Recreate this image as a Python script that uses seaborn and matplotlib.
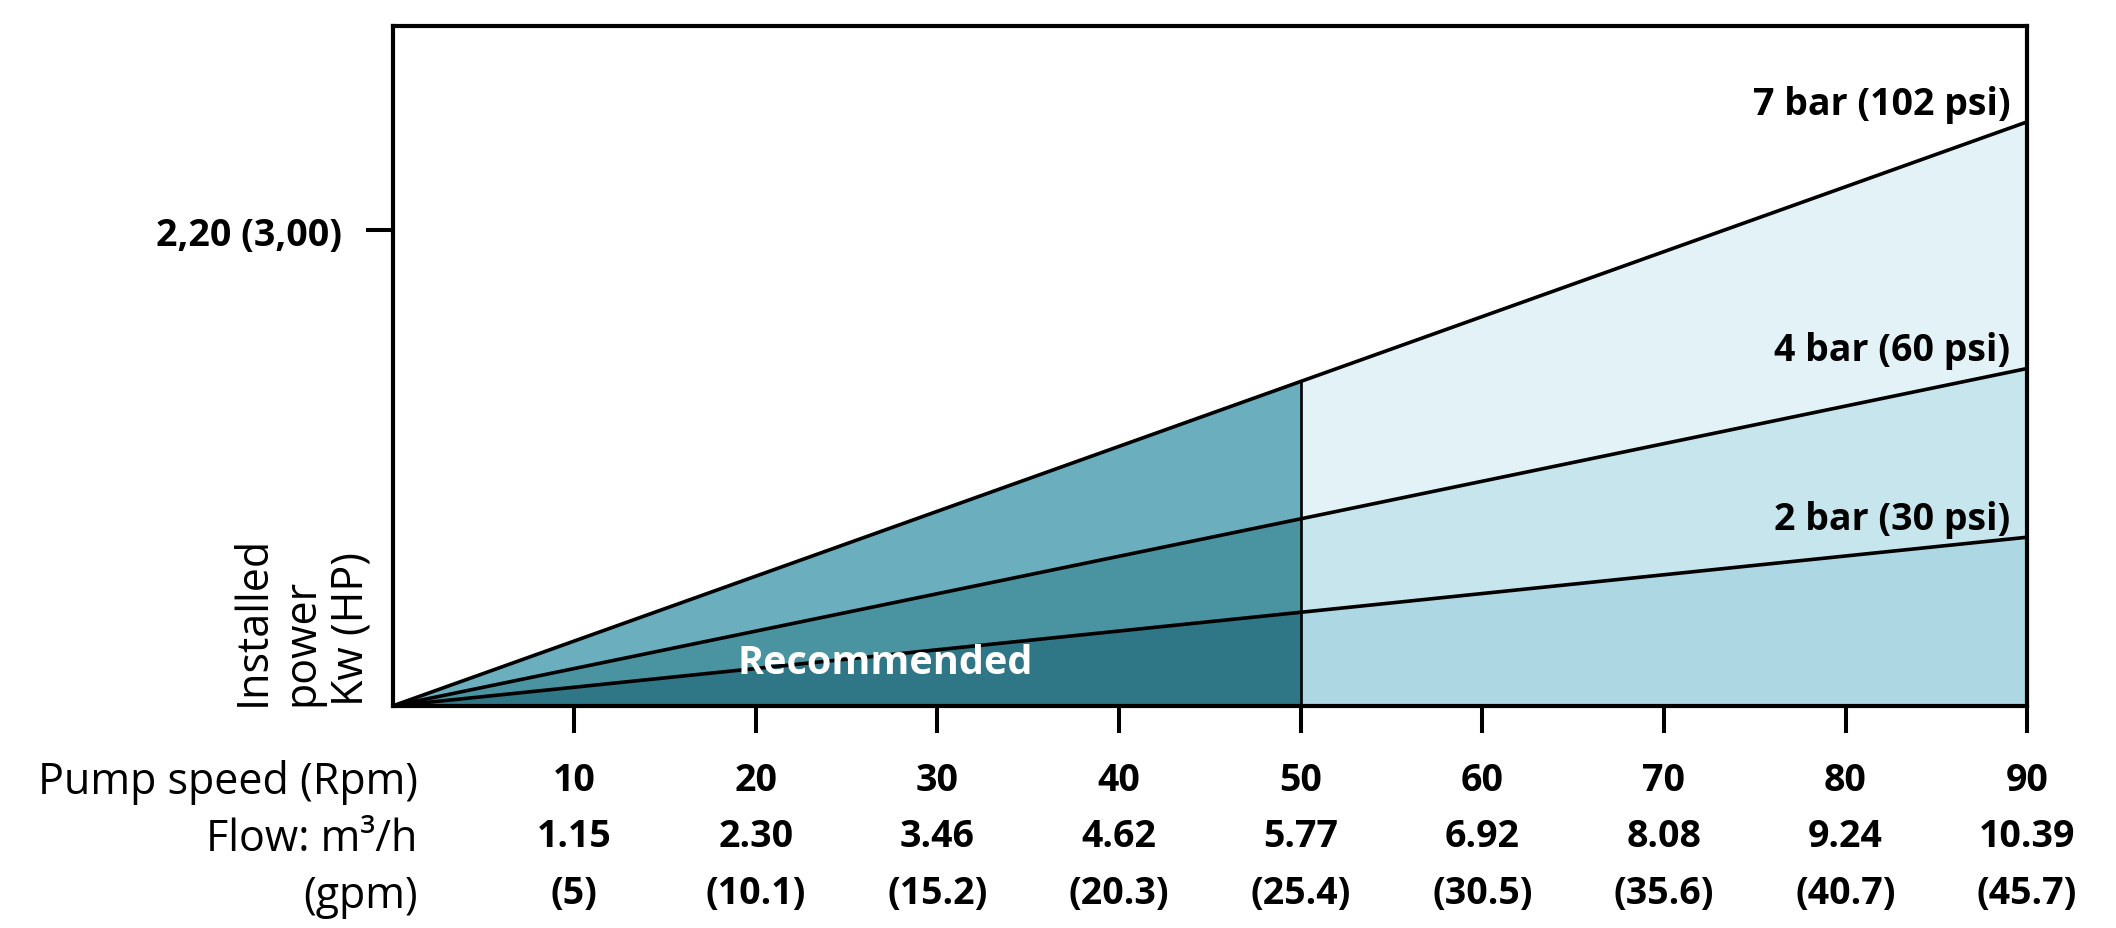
import numpy as np
import matplotlib
matplotlib.use("Agg")
import matplotlib.pyplot as plt
import seaborn as sns
import pandas as pd

# ---- data ----
speed = [0, 50, 90]                  # pump speed (Rpm) break points
kw_7bar = [0.0, 1.50, 2.70]          # installed power, 7 bar (102 psi)
kw_4bar = [0.0, 0.865, 1.56]         # installed power, 4 bar (60 psi)
kw_2bar = [0.0, 0.433, 0.78]         # installed power, 2 bar (30 psi)
series_names = ["7 bar (102 psi)", "4 bar (60 psi)", "2 bar (30 psi)"]
recommended_limit = 50

tick_rpm = [10, 20, 30, 40, 50, 60, 70, 80, 90]
tick_flow = ["1.15", "2.30", "3.46", "4.62", "5.77", "6.92", "8.08", "9.24", "10.39"]
tick_gpm = ["(5)", "(10.1)", "(15.2)", "(20.3)", "(25.4)", "(30.5)", "(35.6)", "(40.7)", "(45.7)"]
row_labels = ["Pump speed (Rpm)", "Flow: m³/h", "(gpm)"]
ytick_val = [2.20]
ytick_lab = ["2,20 (3,00)"]

# ---- style ----
sns.set_theme(style="white")
plt.rcParams["font.family"] = ["Open Sans", "DejaVu Sans"]

left_cols = ["#2F7686", "#4A93A1", "#6BAFBF"]   # below 2 bar, 2-4, 4-7
right_cols = ["#ACD7E3", "#C7E5EC", "#E3F2F7"]

FS = 27
FS_REG = 31
fig = plt.figure(figsize=(21.16, 9.29), dpi=100)
fig.patch.set_facecolor("white")
ax = fig.add_axes([0.1855, 0.2390, 0.958 - 0.1855, 0.9709 - 0.2390])
ax.set_facecolor("white")

x = np.array(speed, dtype=float)
y7 = np.array(kw_7bar)
y4 = np.array(kw_4bar)
y2 = np.array(kw_2bar)
zero = np.zeros_like(x)

segments = [(x <= recommended_limit, left_cols), (x >= recommended_limit, right_cols)]
for mask, cols in segments:
    ax.fill_between(x[mask], zero[mask], y2[mask], color=cols[0], lw=0, zorder=1)
    ax.fill_between(x[mask], y2[mask], y4[mask], color=cols[1], lw=0, zorder=1)
    ax.fill_between(x[mask], y4[mask], y7[mask], color=cols[2], lw=0, zorder=1)

df = pd.DataFrame({
    "speed": list(speed) * 3,
    "kw": kw_7bar + kw_4bar + kw_2bar,
    "series": sum([[n] * len(speed) for n in series_names], []),
})
sns.lineplot(data=df, x="speed", y="kw", hue="series",
             palette=["black"] * 3, lw=2.6, legend=False, ax=ax, zorder=3)

# vertical divider at the recommended limit
idx = speed.index(recommended_limit)
ax.vlines(recommended_limit, 0, kw_7bar[idx], color="black", lw=1.9, zorder=3)

# series labels at right end
for name, ys in zip(series_names, [kw_7bar, kw_4bar, kw_2bar]):
    ax.annotate(name, xy=(speed[-1], ys[-1]), xytext=(-12, 6),
                textcoords="offset points", ha="right", va="baseline",
                fontsize=FS, fontweight="bold", color="black", zorder=4)

ax.text(27.15, 0.203, "Recommended", ha="center", va="center",
        fontsize=28.5, fontweight="bold", color="white", zorder=4)

ax.set_xlim(0, 90)
ax.set_ylim(0, 3.143)

ax.set_xticks(tick_rpm)
ax.set_xticklabels([f"{r}\n{f}\n{g}" for r, f, g in zip(tick_rpm, tick_flow, tick_gpm)],
                   fontsize=FS, fontweight="bold", linespacing=1.64)
ax.set_yticks(ytick_val)
ax.set_yticklabels(ytick_lab, fontsize=FS, fontweight="bold")
ax.tick_params(axis="x", direction="out", length=19.5, width=2.9, pad=20,
               bottom=True, colors="black")
ax.tick_params(axis="y", direction="out", length=19.5, width=2.9, pad=17,
               left=True, colors="black")
for sp in ax.spines.values():
    sp.set_visible(True)
    sp.set_color("black")
    sp.set_linewidth(3)
    sp.set_zorder(5)
ax.set_xlabel("")
ax.set_ylabel("")

# row labels for the multi-line x tick labels (one per line, aligned to tick rows)
row_baselines_pt = [62.5, 103.5, 145.0]
for lab, off in zip(row_labels, row_baselines_pt):
    ax.annotate(lab, xy=(0, 0), xycoords="axes fraction",
                xytext=(18, -off), textcoords="offset points",
                ha="right", va="baseline", fontsize=FS_REG, color="black",
                annotation_clip=False)

# y axis title
ax.annotate("Installed\npower\nKw (HP)", xy=(0, 0), xycoords="axes fraction",
            xytext=(-14, 1), textcoords="offset points", rotation=90,
            ha="right", va="bottom", multialignment="left", linespacing=1.12,
            fontsize=FS_REG, color="black", annotation_clip=False)

fig.savefig("out.png", dpi=100, facecolor="white")
